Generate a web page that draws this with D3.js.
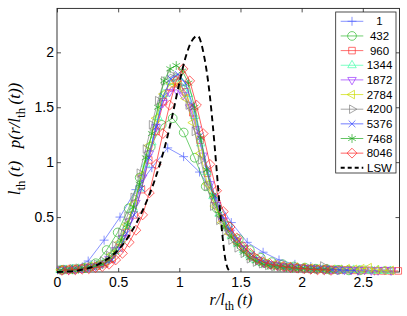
<!DOCTYPE html>
<html>
<head>
<meta charset="utf-8">
<script src="https://cdn.jsdelivr.net/npm/d3@7"></script>
<style>
    body { margin: 0; background: #fff; }
    svg { display: block; }
</style>
</head>
<body>
<div id="sizeDistributionChart"></div>
<script>

// Legend names of the time steps
var seriesNames = ["1", "432", "960", "1344", "1872", "2784", "4200", "5376", "7468", "8046"];

// Bin centres of the histograms
var binsT1 = [0.125, 0.255, 0.385, 0.515, 0.645, 0.775, 0.905, 1.035, 1.165, 1.295, 1.425, 1.555, 1.685, 1.815, 1.945, 2.075, 2.205, 2.335, 2.465, 2.595, 2.725];
var binsT432 = [0.046, 0.136, 0.226, 0.316, 0.406, 0.496, 0.586, 0.676, 0.766, 0.856, 0.946, 1.036, 1.126, 1.216, 1.306, 1.396, 1.486, 1.576, 1.666, 1.756, 1.846, 1.936, 2.026, 2.116, 2.206, 2.296, 2.386, 2.476];
var binsA = [0.03, 0.09, 0.15, 0.21, 0.27, 0.33, 0.39, 0.45, 0.51, 0.57, 0.63, 0.69, 0.75, 0.81, 0.87, 0.93, 0.99, 1.05, 1.11, 1.17, 1.23, 1.29, 1.35, 1.41, 1.47, 1.53, 1.59, 1.65, 1.71, 1.77, 1.83, 1.89, 1.95, 2.01, 2.07, 2.13, 2.19, 2.25, 2.31, 2.37, 2.43, 2.49, 2.55, 2.61, 2.67, 2.73, 2.79];
var binsB = [0.025, 0.075, 0.125, 0.175, 0.225, 0.275, 0.325, 0.375, 0.425, 0.475, 0.525, 0.575, 0.625, 0.675, 0.725, 0.775, 0.825, 0.875, 0.925, 0.975, 1.025, 1.075, 1.125, 1.175, 1.225, 1.275, 1.325, 1.375, 1.425, 1.475, 1.525, 1.575, 1.625, 1.675, 1.725, 1.775, 1.825, 1.875, 1.925, 1.975, 2.025, 2.075, 2.125, 2.175, 2.225, 2.275, 2.325, 2.375, 2.425, 2.475, 2.525, 2.575, 2.625, 2.675, 2.725, 2.775];
var binsC = [0.04, 0.095, 0.15, 0.205, 0.26, 0.315, 0.37, 0.425, 0.48, 0.535, 0.59, 0.645, 0.70, 0.755, 0.81, 0.865, 0.92, 0.975, 1.03, 1.085, 1.14, 1.195, 1.25, 1.305, 1.36, 1.415, 1.47, 1.525, 1.58, 1.635, 1.69, 1.745, 1.80, 1.855, 1.91, 1.965, 2.02, 2.075, 2.13, 2.185, 2.24, 2.295, 2.35, 2.405, 2.46, 2.515, 2.57, 2.625, 2.68, 2.735];

// Scaled distribution values per time step
var pT1 = [0.03, 0.10, 0.29, 0.50, 0.75, 0.95, 1.13, 1.05, 0.91, 0.68, 0.45, 0.27, 0.18, 0.11, 0.07, 0.05, 0.03, 0.02, 0.015, 0.01, 0.01];
var pT432 = [0.02, 0.025, 0.035, 0.08, 0.20, 0.36, 0.58, 0.86, 1.14, 1.34, 1.40, 1.27, 1.04, 0.78, 0.58, 0.42, 0.30, 0.20, 0.13, 0.09, 0.07, 0.05, 0.04, 0.03, 0.025, 0.02, 0.015, 0.015];
var pT960 = [0.02, 0.02, 0.025, 0.035, 0.045, 0.055, 0.075, 0.12, 0.22, 0.36, 0.52, 0.75, 1.02, 1.28, 1.55, 1.68, 1.72, 1.64, 1.45, 1.20, 0.90, 0.66, 0.49, 0.37, 0.28, 0.21, 0.14, 0.10, 0.075, 0.06, 0.05, 0.045, 0.04, 0.035, 0.03, 0.025, 0.025, 0.02, 0.02, 0.02, 0.015, 0.015, 0.015, 0.01, 0.01, 0.01, 0.01];
var pT1344 = [0.02, 0.02, 0.025, 0.03, 0.04, 0.05, 0.06, 0.08, 0.12, 0.19, 0.29, 0.42, 0.57, 0.76, 0.98, 1.18, 1.41, 1.62, 1.73, 1.76, 1.72, 1.62, 1.42, 1.17, 0.91, 0.69, 0.53, 0.42, 0.33, 0.26, 0.20, 0.15, 0.11, 0.085, 0.07, 0.06, 0.05, 0.045, 0.04, 0.035, 0.03, 0.03, 0.025, 0.025, 0.02, 0.02, 0.02, 0.015, 0.02, 0.015, 0.015, 0.01, 0.015, 0.01, 0.01];
var pT1872 = [0.02, 0.02, 0.025, 0.035, 0.045, 0.055, 0.075, 0.12, 0.20, 0.31, 0.46, 0.63, 0.86, 1.08, 1.32, 1.54, 1.64, 1.66, 1.61, 1.50, 1.30, 1.06, 0.80, 0.61, 0.47, 0.36, 0.28, 0.21, 0.15, 0.11, 0.085, 0.07, 0.06, 0.05, 0.045, 0.04, 0.035, 0.03, 0.03, 0.025, 0.025, 0.02, 0.02, 0.02, 0.015, 0.02, 0.015, 0.015, 0.02, 0.015];
var pT2784 = [0.02, 0.025, 0.03, 0.04, 0.05, 0.065, 0.09, 0.16, 0.27, 0.43, 0.62, 0.88, 1.15, 1.40, 1.62, 1.72, 1.70, 1.58, 1.36, 1.08, 0.80, 0.60, 0.45, 0.35, 0.27, 0.20, 0.14, 0.10, 0.08, 0.065, 0.055, 0.05, 0.045, 0.04, 0.035, 0.03, 0.03, 0.025, 0.025, 0.03, 0.025, 0.03, 0.04, 0.02, 0.015, 0.015];
var pT4200 = [0.02, 0.025, 0.03, 0.035, 0.045, 0.055, 0.07, 0.10, 0.15, 0.24, 0.36, 0.51, 0.68, 0.90, 1.12, 1.34, 1.56, 1.74, 1.80, 1.78, 1.68, 1.52, 1.28, 1.02, 0.78, 0.60, 0.47, 0.37, 0.29, 0.22, 0.17, 0.12, 0.09, 0.075, 0.06, 0.05, 0.045, 0.04, 0.035, 0.035, 0.03, 0.03, 0.03, 0.055, 0.03, 0.02, 0.02];
var pT5376 = [0.015, 0.02, 0.025, 0.03, 0.04, 0.05, 0.07, 0.11, 0.21, 0.35, 0.52, 0.76, 1.04, 1.32, 1.60, 1.76, 1.80, 1.72, 1.52, 1.24, 0.94, 0.69, 0.51, 0.39, 0.30, 0.22, 0.16, 0.11, 0.08, 0.065, 0.055, 0.05, 0.04, 0.035, 0.03, 0.03, 0.025, 0.02, 0.02, 0.015, 0.015];
var pT7468 = [0.015, 0.02, 0.02, 0.025, 0.035, 0.045, 0.055, 0.07, 0.11, 0.18, 0.29, 0.43, 0.59, 0.80, 1.04, 1.26, 1.50, 1.74, 1.85, 1.88, 1.83, 1.72, 1.50, 1.22, 0.93, 0.70, 0.53, 0.41, 0.32, 0.25, 0.18, 0.13, 0.10, 0.075, 0.06, 0.05, 0.045, 0.04, 0.035, 0.03, 0.03, 0.025, 0.02, 0.02, 0.015];
var pT8046 = [0.015, 0.02, 0.02, 0.025, 0.03, 0.04, 0.05, 0.07, 0.11, 0.17, 0.27, 0.38, 0.52, 0.72, 0.98, 1.26, 1.52, 1.74, 1.85, 1.74, 1.52, 1.26, 0.98, 0.74, 0.55, 0.41, 0.31, 0.23, 0.17, 0.12, 0.09, 0.07, 0.06, 0.05, 0.04, 0.035, 0.03, 0.025, 0.02, 0.02, 0.015];

// LSW curve
var lswX = [0, 0.1, 0.2, 0.3, 0.4, 0.5, 0.6, 0.7, 0.8, 0.9, 0.95, 1.0, 1.05, 1.1, 1.15, 1.2, 1.25, 1.275, 1.3, 1.325, 1.35, 1.37, 1.39, 1.41, 1.43];
var lswY = [0, 0.005, 0.02, 0.05, 0.11, 0.2, 0.35, 0.56, 0.84, 1.22, 1.46, 1.72, 1.95, 2.10, 2.15, 1.98, 1.60, 1.32, 1.0, 0.66, 0.36, 0.16, 0.05, 0.01, 0];

// Tick values
var xTicks = [0, 0.5, 1, 1.5, 2, 2.5];
var yTicks = [0.5, 1, 1.5, 2];

// Pairing bins and values of each series
var seriesBins = [binsT1, binsT432, binsA, binsB, binsC, binsA, binsB, binsA, binsB, binsC];
var seriesValues = [pT1, pT432, pT960, pT1344, pT1872, pT2784, pT4200, pT5376, pT7468, pT8046];

// Styling of the series (colour, marker, marker rotation, marker area)
var seriesColors = ["#5566ff", "#33bb33", "#ff3333", "#44ffaa", "#9933ff", "#ccdd00", "#808080", "#3344ff", "#22aa22", "#ff2020"];
var seriesSymbols = [d3.symbolPlus, d3.symbolCircle, d3.symbolSquare2, d3.symbolTriangle2, d3.symbolTriangle2, d3.symbolTriangle2, d3.symbolTriangle2, d3.symbolTimes, d3.symbolAsterisk, d3.symbolDiamond2];
var seriesRotations = [0, 0, 0, 0, 180, -90, 90, 0, 0, 0];
var seriesSizes = [28, 60, 55, 52, 52, 52, 52, 32, 55, 62];

// Setting chart parameters
var properties = {
    width: 407,
    height: 316,
    margin: { top: 8.4, right: 7.5, bottom: 44, left: 57 }
};

var svg = d3.select("#sizeDistributionChart")
    .append("svg")
    .attr("width", properties.width)
    .attr("height", properties.height);

// Defining the scales
var xScale = d3.scaleLinear()
    .domain([0, 2.8])
    .range([properties.margin.left, properties.width - properties.margin.right]);

var yScale = d3.scaleLinear()
    .domain([0, 2.4])
    .range([properties.height - properties.margin.bottom, properties.margin.top]);

var plotTop = yScale(2.4), plotBottom = yScale(0), plotLeft = xScale(0), plotRight = xScale(2.8);

// Adding the frame
svg.append("rect")
    .attr("x", plotLeft)
    .attr("y", plotTop)
    .attr("width", plotRight - plotLeft)
    .attr("height", plotBottom - plotTop)
    .attr("fill", "none")
    .attr("stroke", "#222")
    .attr("stroke-width", 0.9);

// Axes with inward ticks
function styleAxis(g) {
    g.select(".domain").remove();
    g.selectAll(".tick line").attr("stroke", "#222").attr("stroke-width", 0.8);
    g.selectAll("text")
        .attr("font-family", "'Liberation Sans', Arial, sans-serif")
        .attr("font-size", 14)
        .attr("fill", "#000");
}

svg.append("g")
    .attr("transform", "translate(0," + plotBottom + ")")
    .call(d3.axisBottom(xScale).tickValues(xTicks).tickSizeInner(-4).tickSizeOuter(0).tickPadding(5).tickFormat(d3.format("")))
    .call(styleAxis);

svg.append("g")
    .attr("transform", "translate(0," + plotTop + ")")
    .call(d3.axisTop(xScale).tickValues(xTicks).tickSizeInner(-4).tickSizeOuter(0).tickFormat(""))
    .call(styleAxis);

svg.append("g")
    .attr("transform", "translate(" + plotLeft + ",0)")
    .call(d3.axisLeft(yScale).tickValues(yTicks).tickSizeInner(-4).tickSizeOuter(0).tickPadding(3).tickFormat(d3.format("")))
    .call(styleAxis);

svg.append("g")
    .attr("transform", "translate(" + plotRight + ",0)")
    .call(d3.axisRight(yScale).tickValues(yTicks).tickSizeInner(-4).tickSizeOuter(0).tickFormat(""))
    .call(styleAxis);

// Line generator for the series
var line = d3.line()
    .x(function (d) { return xScale(d[0]); })
    .y(function (d) { return yScale(d[1]); });

function markerPath(i) {
    return d3.symbol().type(seriesSymbols[i]).size(seriesSizes[i])();
}

// Drawing each series
seriesNames.forEach(function (name, i) {
    var points = seriesValues[i].map(function (v, k) { return [seriesBins[i][k], v]; });
    var g = svg.append("g").attr("class", "series series-" + name);

    g.append("path")
        .datum(points)
        .attr("d", line)
        .attr("fill", "none")
        .attr("stroke", seriesColors[i])
        .attr("stroke-width", 0.7);

    g.selectAll(".marker")
        .data(points)
        .enter()
        .append("path")
        .attr("class", "marker")
        .attr("d", markerPath(i))
        .attr("transform", function (d) {
            return "translate(" + xScale(d[0]) + "," + yScale(d[1]) + ") rotate(" + seriesRotations[i] + ")";
        })
        .attr("fill", "none")
        .attr("stroke", seriesColors[i])
        .attr("stroke-width", 0.7);
});

// Drawing the LSW curve
var lswPoints = lswX.map(function (v, k) { return [v, lswY[k]]; });
svg.append("path")
    .datum(lswPoints)
    .attr("d", d3.line().curve(d3.curveMonotoneX).x(function (d) { return xScale(d[0]); }).y(function (d) { return yScale(d[1]); }))
    .attr("fill", "none")
    .attr("stroke", "#000")
    .attr("stroke-width", 1.9)
    .attr("stroke-dasharray", "6,4");

// Adding the legend
var legend = svg.append("g").attr("class", "legend");
var legendLeft = 335.7, legendRight = 396, legendTop = 12, rowHeight = 14.65;

legend.append("rect")
    .attr("x", legendLeft)
    .attr("y", legendTop)
    .attr("width", legendRight - legendLeft)
    .attr("height", 161)
    .attr("fill", "#fff")
    .attr("stroke", "#222")
    .attr("stroke-width", 0.8);

var legendNames = seriesNames.concat(["LSW"]);
var legendItems = legend.selectAll(".legend-item")
    .data(legendNames)
    .enter()
    .append("g")
    .attr("class", "legend-item")
    .attr("transform", function (d, i) { return "translate(0," + (legendTop + 9.3 + i * rowHeight) + ")"; });

legendItems.append("line")
    .attr("x1", 340.7)
    .attr("x2", 363.3)
    .attr("stroke", function (d, i) { return i < seriesNames.length ? seriesColors[i] : "#000"; })
    .attr("stroke-width", function (d, i) { return i < seriesNames.length ? 0.7 : 1.9; })
    .attr("stroke-dasharray", function (d, i) { return i < seriesNames.length ? null : "4,3"; });

legendItems.filter(function (d, i) { return i < seriesNames.length; })
    .append("path")
    .attr("d", function (d, i) { return markerPath(i); })
    .attr("transform", function (d, i) { return "translate(352,0) rotate(" + seriesRotations[i] + ")"; })
    .attr("fill", "none")
    .attr("stroke", function (d, i) { return seriesColors[i]; })
    .attr("stroke-width", 0.7);

legendItems.append("text")
    .attr("x", 379.5)
    .attr("dy", "0.36em")
    .attr("text-anchor", "middle")
    .attr("font-family", "'Liberation Sans', Arial, sans-serif")
    .attr("font-size", 11.5)
    .text(function (d) { return d; });

// Axis titles
var xTitle = svg.append("text")
    .attr("x", 231)
    .attr("y", 305)
    .attr("text-anchor", "middle")
    .attr("font-family", "'Liberation Serif', 'Times New Roman', serif")
    .attr("font-size", 16);
xTitle.append("tspan").attr("font-style", "italic").text("r/l");
xTitle.append("tspan").attr("font-size", 12).attr("dy", 5).text("th");
xTitle.append("tspan").attr("dy", -5).attr("font-style", "italic").text("\u2009(t)");

var yTitle = svg.append("text")
    .attr("transform", "translate(20,139) rotate(-90)")
    .attr("text-anchor", "middle")
    .attr("font-family", "'Liberation Serif', 'Times New Roman', serif")
    .attr("font-size", 17);
yTitle.append("tspan").attr("font-style", "italic").text("l");
yTitle.append("tspan").attr("font-size", 13).attr("dy", 5).text("th");
yTitle.append("tspan").attr("dy", -5).attr("font-style", "italic").text("\u2009(t)\u2002 p(r/l");
yTitle.append("tspan").attr("font-size", 13).attr("dy", 5).text("th");
yTitle.append("tspan").attr("dy", -5).attr("font-style", "italic").text("\u2009(t))");

</script>
</body>
</html>
